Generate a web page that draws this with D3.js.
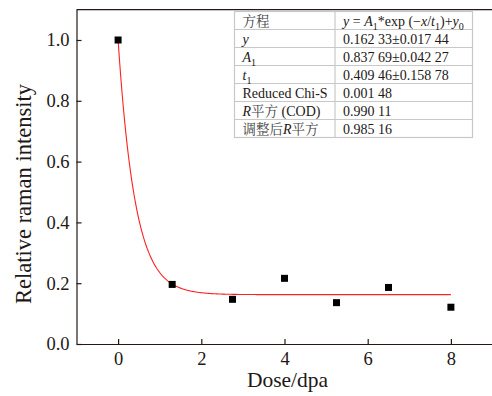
<!DOCTYPE html>
<html>
<head>
<meta charset="utf-8">
<script src="https://cdn.jsdelivr.net/npm/d3@7"></script>
<style>
  body { margin: 0; background: #fff; }
  svg text { font-family: "Liberation Serif", serif; fill: #231815; }
  svg text.cjk { font-family: "Liberation Serif", "Noto Serif CJK SC", "Noto Sans CJK SC", serif; }
</style>
</head>
<body>
<svg id="chart" width="492" height="396"></svg>
<script>
// measured points
const doses = [0, 1.3, 2.75, 4, 5.25, 6.5, 8];
const intensity = [1.0, 0.196, 0.147, 0.216, 0.136, 0.186, 0.121];
const xTicks = [0, 2, 4, 6, 8];
const yTicks = [0, 0.2, 0.4, 0.6, 0.8, 1.0];

// fit parameters (from the table)
const fitY0 = 0.16233;
const fitA1 = 0.83769;
const fitT1 = 0.40946;
const fitRange = [0, 8];

// table rows: each cell is a list of [text, style] pieces
const tableNames = [
  [["方程", "c"]],
  [["y", "i"]],
  [["A", "i"], ["1", "sub"]],
  [["t", "i"], ["1", "sub"]],
  [["Reduced Chi-S", ""]],
  [["R", "i"], ["平方", "c"], [" (COD)", ""]],
  [["调整后", "c"], ["R", "i"], ["平方", "c"]]
];
const tableValues = [
  [["y", "i"], [" = ", ""], ["A", "i"], ["1", "sub"], ["*exp (−", ""], ["x", "i"], ["/", ""], ["t", "i"], ["1", "sub"], [")+", ""], ["y", "i"], ["0", "sub"]],
  [["0.162 33±0.017 44", ""]],
  [["0.837 69±0.042 27", ""]],
  [["0.409 46±0.158 78", ""]],
  [["0.001 48", ""]],
  [["0.990 11", ""]],
  [["0.985 16", ""]]
];

const svg = d3.select("#chart");
const ink = "#231815";

const x = d3.scaleLinear().domain([-1, 9]).range([76.5, 492.5]);
const y = d3.scaleLinear().domain([0, 1.1]).range([344, 9.6]);

// axes (ticks point inward)
const xAxis = svg.append("g")
  .attr("transform", `translate(0,${y(0)})`)
  .call(d3.axisBottom(x).tickValues(xTicks).tickFormat(d3.format("d"))
    .tickSizeInner(-5).tickSizeOuter(0).tickPadding(8));
const yAxis = svg.append("g")
  .attr("transform", `translate(${x(-1)},0)`)
  .call(d3.axisLeft(y).tickValues(yTicks).tickFormat(d3.format(".1f"))
    .tickSizeInner(-5).tickSizeOuter(0).tickPadding(7));

[xAxis, yAxis].forEach(g => {
  g.attr("font-family", null);
  g.selectAll("path, line").attr("stroke", ink).attr("stroke-width", 1.2);
  g.selectAll("text").attr("font-size", 18.5).attr("fill", ink);
});

// top frame line
svg.append("line")
  .attr("x1", x(-1)).attr("x2", x(9))
  .attr("y1", y(1.1)).attr("y2", y(1.1))
  .attr("stroke", ink).attr("stroke-width", 1.2);

// axis titles
svg.append("text")
  .attr("x", (x(-1) + x(9)) / 2 + 3).attr("y", 387)
  .attr("text-anchor", "middle").attr("font-size", 21.5)
  .text("Dose/dpa");
svg.append("text")
  .attr("transform", "translate(31,194) rotate(-90)")
  .attr("text-anchor", "middle").attr("font-size", 22.5)
  .text("Relative raman intensity");

// fit curve
const curveX = d3.range(fitRange[0], fitRange[1] + 0.001, 0.02);
const line = d3.line()
  .x(d => x(d))
  .y(d => y(fitA1 * Math.exp(-d / fitT1) + fitY0));
svg.append("path")
  .datum(curveX)
  .attr("d", line)
  .attr("fill", "none")
  .attr("stroke", "#ff2020")
  .attr("stroke-width", 1.1);

// data markers
const m = 7;
svg.append("g").selectAll("rect")
  .data(doses.map((d, i) => [d, intensity[i]]))
  .enter()
  .append("rect")
  .attr("x", d => x(d[0]) - m / 2)
  .attr("y", d => y(d[1]) - m / 2)
  .attr("width", m).attr("height", m)
  .attr("fill", "#000");

// parameter table
const tx0 = 234.5, tx1 = 335, tx2 = 472.5, ty0 = 11.5, rowH = 18;
const table = svg.append("g");
const nRows = tableNames.length;
table.append("rect")
  .attr("x", tx0).attr("y", ty0)
  .attr("width", tx2 - tx0).attr("height", rowH * nRows)
  .attr("fill", "#fff").attr("stroke", "#c8c8c8").attr("stroke-width", 1.2);
d3.range(1, nRows).forEach(r => {
  table.append("line")
    .attr("x1", tx0).attr("x2", tx2)
    .attr("y1", ty0 + r * rowH).attr("y2", ty0 + r * rowH)
    .attr("stroke", "#c8c8c8").attr("stroke-width", 1.2);
});
table.append("line")
  .attr("x1", tx1).attr("x2", tx1)
  .attr("y1", ty0).attr("y2", ty0 + rowH * nRows)
  .attr("stroke", "#c8c8c8").attr("stroke-width", 1.2);

function richText(g, pieces, px, py) {
  const t = g.append("text").attr("class", "cjk")
    .attr("x", px).attr("y", py).attr("font-size", 14);
  let shifted = false;
  pieces.forEach(([s, st]) => {
    const sp = t.append("tspan").text(s);
    if (st === "i") sp.attr("font-style", "italic");
    if (st === "c") sp.attr("font-size", 13.5).attr("fill", "#444");
    if (st === "sub") {
      sp.attr("font-size", 10).attr("dy", shifted ? 0 : 4);
      shifted = true;
    } else if (shifted) {
      sp.attr("dy", -4);
      shifted = false;
    }
  });
}
tableNames.forEach((cell, r) => richText(table, cell, tx0 + 8, ty0 + r * rowH + 14));
tableValues.forEach((cell, r) => richText(table, cell, tx1 + 8, ty0 + r * rowH + 14));
</script>
</body>
</html>
